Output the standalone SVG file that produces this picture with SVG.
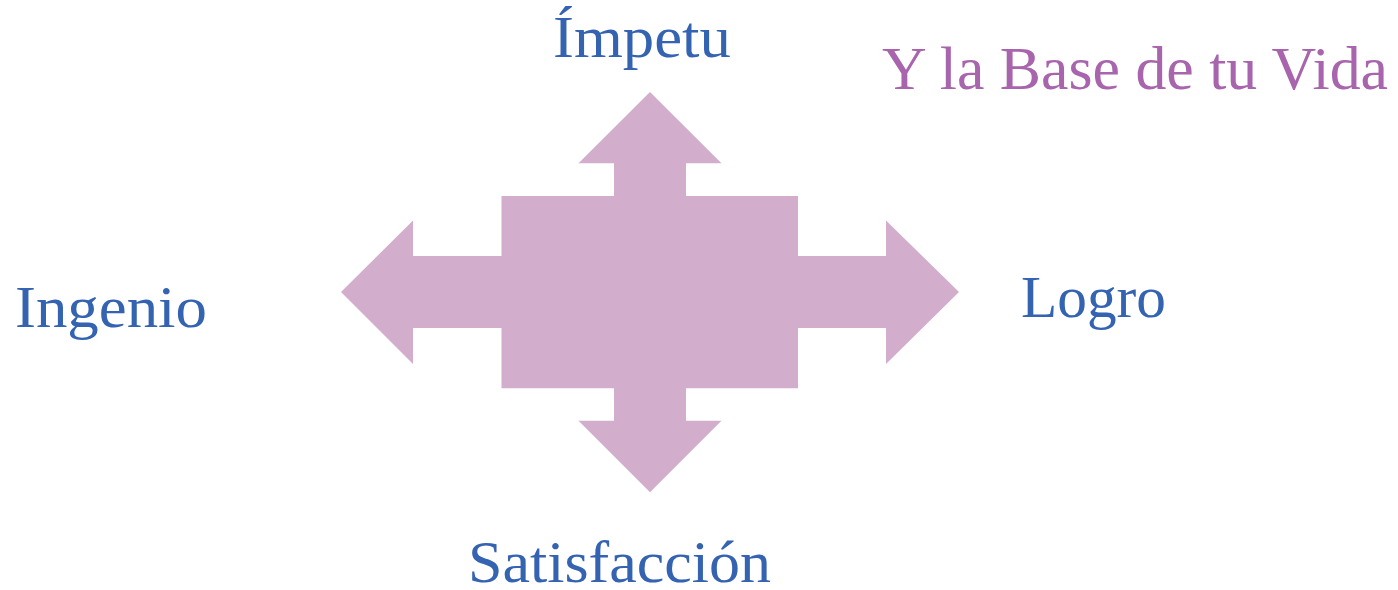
<svg xmlns="http://www.w3.org/2000/svg" width="1398" height="590" viewBox="0 0 1398 590">
<style>
.lbl{font-family:"Liberation Serif","Times New Roman",serif;font-size:60px;fill:#3463B1;}
.title{font-family:"Liberation Serif","Times New Roman",serif;font-size:62px;fill:#A865AD;}
.shape{fill:#D3AECC;}
</style>
<rect width="1398" height="590" fill="#FFFFFF"/>
<g id="connectors">
<path class="shape" d="M650,92 L721.5,163.3 L686,163.3 L686,196 L798,196 L798,256 L886,256 L886,220.5 L959,292 L886,364 L886,328 L798,328 L798,388.3 L686,388.3 L686,420.7 L721.5,420.7 L650,492.3 L578.5,420.7 L614,420.7 L614,388.3 L501.5,388.3 L501.5,328 L413,328 L413,364 L341,292 L413,220.5 L413,256 L501.5,256 L501.5,196 L614,196 L614,163.3 L578.5,163.3 Z"/>
</g>
<g id="node-impetu"><text class="lbl" x="553" y="57" textLength="178" lengthAdjust="spacingAndGlyphs">Ímpetu</text></g>
<g id="node-title"><text class="title" x="882" y="89" textLength="506" lengthAdjust="spacingAndGlyphs">Y la Base de tu Vida</text></g>
<g id="node-ingenio"><text class="lbl" x="15" y="327" textLength="192" lengthAdjust="spacingAndGlyphs">Ingenio</text></g>
<g id="node-logro"><text class="lbl" x="1021" y="317" textLength="145" lengthAdjust="spacingAndGlyphs">Logro</text></g>
<g id="node-satisfaccion"><text class="lbl" x="468" y="582" font-size="58" textLength="303" lengthAdjust="spacingAndGlyphs">Satisfacción</text></g>
</svg>
